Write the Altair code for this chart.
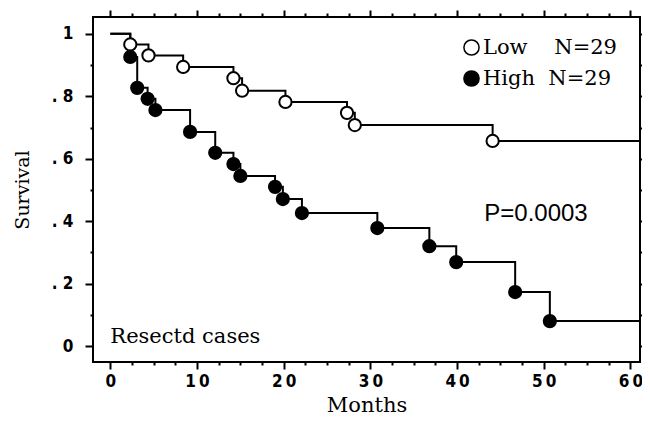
import altair as alt
import pandas as pd

# ---- data ----
low_months = [2.3, 4.4, 8.4, 14.2, 15.2, 20.2, 27.3, 28.2, 44.1]
low_surv = [0.966, 0.931, 0.894, 0.858, 0.818, 0.782, 0.747, 0.708, 0.657]
high_months = [2.3, 3.1, 4.3, 5.2, 9.2, 12.1, 14.2, 15.0, 19.0, 19.9, 22.1,
               30.8, 36.8, 39.9, 46.7, 50.7]
high_surv = [0.926, 0.827, 0.792, 0.756, 0.686, 0.619, 0.583, 0.545, 0.51,
             0.471, 0.426, 0.378, 0.32, 0.269, 0.173, 0.08]
follow_up_end = 62
groups = ["Low", "High"]
group_n = [29, 29]
group_gap = [4, 2]
p_text = "P=0.0003"
note_text = "Resectd cases"
x_major = [0, 10, 20, 30, 40, 50, 60]
x_minor = [v / 2 for v in range(0, 125, 5) if v % 20 != 0]
y_major = [0, 0.2, 0.4, 0.6, 0.8, 1.0]
y_minor = [0.1, 0.3, 0.5, 0.7, 0.9]

NB = "\u00a0"
labels = [g + NB * k + "N=" + str(n) for g, n, k in zip(groups, group_n, group_gap)]

line_rows, point_rows = [], []
for lab, ms, ss in [(labels[0], low_months, low_surv), (labels[1], high_months, high_surv)]:
    line_rows.append({"group": lab, "month": 0, "surv": 1.0})
    for m, s in zip(ms, ss):
        line_rows.append({"group": lab, "month": m, "surv": s})
        point_rows.append({"group": lab, "month": m, "surv": s})
    line_rows.append({"group": lab, "month": follow_up_end, "surv": ss[-1]})
lines_df = pd.DataFrame(line_rows)
points_df = pd.DataFrame(point_rows)
p_df = pd.DataFrame({"month": [49.1], "surv": [0.423], "text": [p_text]})
note_df = pd.DataFrame({"month": [0.0], "surv": [0.029], "text": [note_text]})

xs = alt.Scale(domain=[-2, 61.1], nice=False, zero=False)
ys = alt.Scale(domain=[-0.051, 1.054], nice=False, zero=False)

TICKFONT = "Liberation Sans Narrow, DejaVu Sans Condensed, Liberation Sans"
SERIF = "DejaVu Serif"

def ax(orient, values, size, labels_on=False, **kw):
    return alt.Axis(orient=orient, values=values, tickSize=size, tickWidth=2,
                    tickColor="black", domain=False, grid=False, labels=labels_on,
                    title=kw.pop("title", ""), **kw)

x_bottom = ax("bottom", x_major, 7, True, labelFont=TICKFONT, labelFontSize=17,
              labelFontWeight="bold", labelColor="black", labelPadding=4,
              labelExpr="length(datum.label) > 1 ? slice(datum.label,0,1) + '\u2009' + slice(datum.label,1) : datum.label",
              title="Months", titleFont=SERIF, titleFontSize=21,
              titleFontWeight="normal", titleColor="black", titlePadding=5)
y_left = ax("left", y_major, 8, True, labelFont=TICKFONT, labelFontSize=17,
            labelFontWeight="bold", labelColor="black", labelPadding=12,
            labelExpr="datum.value == 1 ? '1' : datum.value == 0 ? '0' : '. ' + format(round(datum.value*10), 'd')",
            title="Survival", titleFont=SERIF, titleFontSize=19,
            titleFontWeight="normal", titleColor="black", titlePadding=19)

line = alt.Chart(lines_df).mark_line(interpolate="step-after", color="black",
                                     strokeWidth=2, clip=True).encode(
    x=alt.X("month:Q", scale=xs, axis=x_bottom),
    y=alt.Y("surv:Q", scale=ys, axis=y_left),
    detail="group:N",
)

points = alt.Chart(points_df).mark_point(filled=True, shape="circle", size=150,
                                         stroke="black", strokeWidth=2,
                                         opacity=1).encode(
    x=alt.X("month:Q", scale=xs, axis=ax("top", x_major, 7)),
    y=alt.Y("surv:Q", scale=ys, axis=ax("right", y_major, 4)),
    fill=alt.Fill("group:N", scale=alt.Scale(domain=labels, range=["white", "black"]),
                  legend=alt.Legend(title="", orient="none", legendX=368, legendY=20,
                                    padding=0, symbolType="circle", symbolSize=230,
                                    symbolStrokeColor="black", symbolStrokeWidth=1.5,
                                    symbolOpacity=1, labelFont=SERIF, labelFontSize=21,
                                    labelColor="black", labelOffset=1, rowPadding=8,
                                    labelLimit=300)),
)

ptext = alt.Chart(p_df).mark_text(font="Liberation Sans", fontSize=24, color="black",
                                  align="center", baseline="middle").encode(
    x=alt.X("month:Q", scale=xs, axis=ax("bottom", x_minor, 3)),
    y=alt.Y("surv:Q", scale=ys, axis=ax("left", y_minor, 3)),
    text="text:N",
)

ntext = alt.Chart(note_df).mark_text(font=SERIF, fontSize=21, color="black",
                                     align="left", baseline="middle").encode(
    x=alt.X("month:Q", scale=xs, axis=ax("top", x_minor, 4)),
    y=alt.Y("surv:Q", scale=ys, axis=ax("right", y_minor, 2)),
    text="text:N",
)

chart = alt.layer(line, points, ptext, ntext).resolve_axis(
    x="independent", y="independent"
).properties(
    width=547, height=345,
    autosize=alt.AutoSizeParams(type="none"),
    padding={"left": 85, "top": 9, "right": 2, "bottom": 58},
    background="white",
).configure_view(stroke="black", strokeWidth=2)

chart.save("out.html", embed_options={"renderer": "svg", "actions": False})
